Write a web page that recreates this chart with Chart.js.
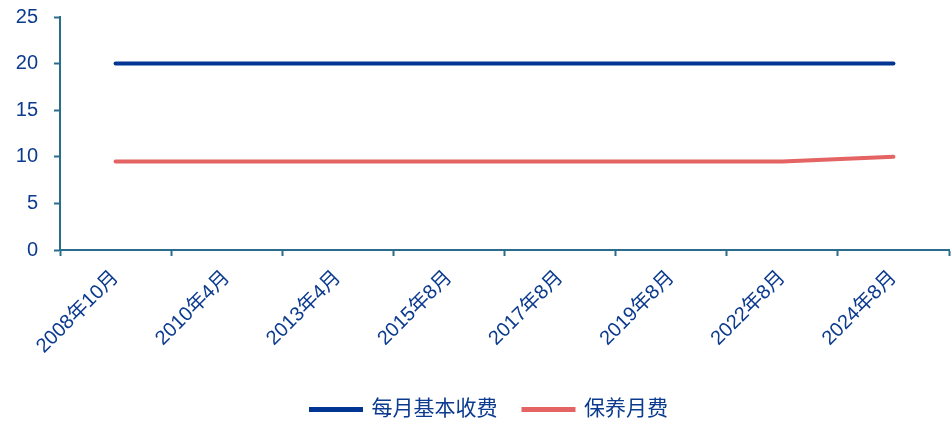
<!DOCTYPE html>
<html>
<head>
<meta charset="utf-8">
<script src="https://cdn.jsdelivr.net/npm/chart.js@4"></script>
<style>
  html, body { margin: 0; padding: 0; background: #ffffff; }
  #wrap { width: 951px; height: 423px; }
</style>
</head>
<body>
<div id="wrap"><canvas id="feeChart"></canvas></div>
<script>
Chart.defaults.font.family = "Arial, 'Liberation Sans', 'Noto Sans CJK SC', sans-serif";

var labels     = ['2008年10月', '2010年4月', '2013年4月', '2015年8月', '2017年8月', '2019年8月', '2022年8月', '2024年8月'];
var basicFee   = [20, 20, 20, 20, 20, 20, 20, 20];
var upkeepFee  = [9.5, 9.5, 9.5, 9.5, 9.5, 9.5, 9.5, 10];
var yTicks     = [0, 5, 10, 15, 20, 25];

var axisColor = '#2b6c8c';
var textColor = '#0b3a8f';

// the legend in the source sits a bit right of centre
var legendNudge = {
    id: 'legendNudge',
    afterLayout: function (chart) {
        chart.legend.left  += 15;
        chart.legend.right += 15;
    }
};

new Chart(document.getElementById('feeChart'), {
    type: 'line',
    data: {
        labels: labels,
        datasets: [
            {
                label:           '每月基本收费',
                data:            basicFee,
                borderColor:     '#003594',
                backgroundColor: '#003594',
                borderWidth: 4, borderCapStyle: 'round', tension: 0, pointRadius: 0
            },
            {
                label:           '保养月费',
                data:            upkeepFee,
                borderColor:     '#e46363',
                backgroundColor: '#e46363',
                borderWidth: 4, borderCapStyle: 'round', tension: 0, pointRadius: 0
            }
        ]
    },
    options: {
        responsive:          true,
        maintainAspectRatio: false,
        animation:           false,
        layout: { padding: { top: 17, right: 2, left: 0, bottom: -7 } },
        plugins: {
            tooltip: { enabled: false },
            legend: {
                position: 'bottom',
                labels: {
                    color: textColor,
                    font: { size: 21 },
                    boxWidth: 50,
                    boxHeight: 1,
                    padding: 26
                }
            }
        },
        scales: {
            x: {
                offset: true,
                border: { color: axisColor, width: 2 },
                grid: { display: true, drawOnChartArea: false, offset: true, tickLength: 6, tickWidth: 2, tickColor: axisColor },
                ticks: { color: textColor, font: { size: 20 }, minRotation: 45, maxRotation: 45, padding: 10 },
                afterFit: function (s) { s.height = 123; }
            },
            y: {
                min: 0,
                max: 25,
                afterBuildTicks: function (s) { s.ticks = yTicks.map(function (v) { return { value: v }; }); },
                border: { color: axisColor, width: 2 },
                grid: { display: true, drawOnChartArea: false, tickLength: 6, tickWidth: 2, tickColor: axisColor },
                ticks: { color: textColor, font: { size: 20 }, padding: 16 },
                afterFit: function (s) {
                    s.width = 60;
                    s.paddingTop = 0;
                    s.paddingBottom = 0;
                }
            }
        }
    },
    plugins: [legendNudge]
});
</script>
</body>
</html>
